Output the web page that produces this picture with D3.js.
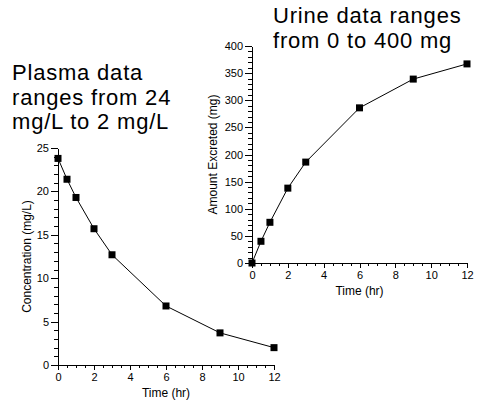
<!DOCTYPE html>
<html>
<head>
<meta charset="utf-8">
<script src="https://cdn.jsdelivr.net/npm/d3@7"></script>
<style>
  body { margin: 0; background: #fff; }
  svg { display: block; font-family: "Liberation Sans", Arial, sans-serif; }
  .axis path, .axis line { stroke: #000; shape-rendering: crispEdges; }
  .axis text { font-size: 11px; fill: #000; }
  .axis-title { font-size: 12px; fill: #000; }
  .note { font-size: 22px; letter-spacing: 0.8px; fill: #000; }
</style>
</head>
<body>
<svg id="chart" width="488" height="406" viewBox="0 0 488 406"></svg>
<script>
// --- Data ---
const timeHr = [0, 0.5, 1, 2, 3, 6, 9, 12];
const plasmaConc = [23.8, 21.4, 19.3, 15.7, 12.7, 6.8, 3.7, 2.0];
const urineAmount = [0, 40, 75, 138, 186, 286, 339, 367];

const xMajorTicks = [0, 2, 4, 6, 8, 10, 12];
const xMinorTicks = d3.range(0, 12.01, 0.5);
const plasmaMajorTicks = [0, 5, 10, 15, 20, 25];
const plasmaMinorTicks = d3.range(0, 25.01, 1);
const urineMajorTicks = [0, 50, 100, 150, 200, 250, 300, 350, 400];
const urineMinorTicks = d3.range(0, 400.01, 10);

const plasmaNote = ["Plasma data", "ranges from 24", "mg/L to 2 mg/L"];
const urineNote = ["Urine data ranges", "from 0 to 400 mg"];

const svg = d3.select("#chart");

// --- Panels ---
const panels = [
    {
        values: plasmaConc,
        xRange: [58, 274], yRange: [365, 148],
        yDomain: [0, 25], yMajor: plasmaMajorTicks, yMinor: plasmaMinorTicks,
        yTitle: "Concentration (mg/L)", yTitleX: 31,
        xTitleY: 397
    },
    {
        values: urineAmount,
        xRange: [252, 467], yRange: [263, 46],
        yDomain: [0, 400], yMajor: urineMajorTicks, yMinor: urineMinorTicks,
        yTitle: "Amount Excreted (mg)", yTitleX: 217,
        xTitleY: 295
    }
];

panels.forEach(p => {
    const x = d3.scaleLinear().domain([0, 12]).range(p.xRange);
    const y = d3.scaleLinear().domain(p.yDomain).range(p.yRange);
    const g = svg.append("g");

    // minor ticks first, majors on top
    g.append("g").attr("class", "axis")
        .attr("transform", `translate(0,${p.yRange[0]})`)
        .call(d3.axisBottom(x).tickValues(xMinorTicks).tickFormat("").tickSize(3).tickSizeOuter(0));
    g.append("g").attr("class", "axis")
        .attr("transform", `translate(0,${p.yRange[0]})`)
        .call(d3.axisBottom(x).tickValues(xMajorTicks).tickFormat(d3.format("d")).tickSize(5).tickSizeOuter(0).tickPadding(3));

    g.append("g").attr("class", "axis")
        .attr("transform", `translate(${p.xRange[0]},0)`)
        .call(d3.axisLeft(y).tickValues(p.yMinor).tickFormat("").tickSize(4).tickSizeOuter(0));
    g.append("g").attr("class", "axis")
        .attr("transform", `translate(${p.xRange[0]},0)`)
        .call(d3.axisLeft(y).tickValues(p.yMajor).tickFormat(d3.format("d")).tickSize(7).tickSizeOuter(0).tickPadding(2));

    g.selectAll(".axis").attr("font-family", null).attr("font-size", null);

    // axis titles
    g.append("text").attr("class", "axis-title")
        .attr("x", (p.xRange[0] + p.xRange[1]) / 2).attr("y", p.xTitleY)
        .attr("text-anchor", "middle").text("Time (hr)");
    g.append("text").attr("class", "axis-title")
        .attr("transform", `translate(${p.yTitleX},${(p.yRange[0] + p.yRange[1]) / 2}) rotate(-90)`)
        .attr("text-anchor", "middle").text(p.yTitle);

    // data line + square markers
    const pts = timeHr.map((t, i) => [t, p.values[i]]);
    g.append("path").datum(pts)
        .attr("fill", "none").attr("stroke", "#000").attr("stroke-width", 1)
        .attr("d", d3.line().x(d => x(d[0])).y(d => y(d[1])));
    const s = 7;
    g.selectAll("rect.pt").data(pts).enter().append("rect")
        .attr("class", "pt")
        .attr("x", d => x(d[0]) - s / 2).attr("y", d => y(d[1]) - s / 2)
        .attr("width", s).attr("height", s).attr("fill", "#000");
});

// --- Big annotations: one wrapped text block each ---
function note(lines, x0, y0) {
    svg.append("text").attr("class", "note").attr("x", x0).attr("y", y0)
        .selectAll("tspan").data(lines).enter().append("tspan")
        .attr("x", x0).attr("dy", (d, i) => i === 0 ? 0 : 24.7).text(d => d);
}
note(plasmaNote, 12, 80);
note(urineNote, 273, 23);
</script>
</body>
</html>
